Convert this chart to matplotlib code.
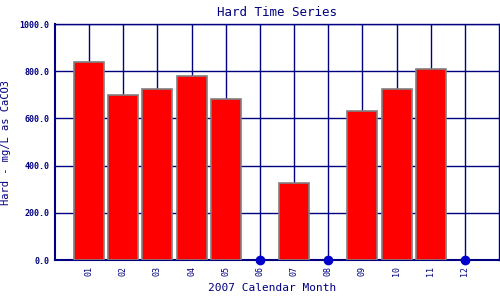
import numpy as np
import matplotlib
matplotlib.use("Agg")
import matplotlib.pyplot as plt

# monthly hardness, NaN = no sample
months = ["01", "02", "03", "04", "05", "06", "07", "08", "09", "10", "11", "12"]
hardness = [837, 700, 726, 781, 684, np.nan, 325, np.nan, 630, 726, 811, np.nan]

navy = "#000080"
plt.rcParams['font.family'] = ['DejaVu Sans Mono', 'DejaVu Sans']

fig = plt.figure(figsize=(5, 3), dpi=100)
ax = fig.add_axes([0.11, 0.133, 0.888, 0.787])

x = np.arange(1, len(months) + 1)
vals = np.array(hardness, dtype=float)
have = ~np.isnan(vals)

ax.bar(x[have], vals[have], width=0.88, color="red", edgecolor="gray",
       linewidth=1.2, zorder=3)
ax.plot(x[~have], np.zeros((~have).sum()), "o", color="#0000cc",
        markersize=6, zorder=4, clip_on=False)

ax.set_xlim(0, 13)
ax.set_ylim(0, 1000)
ax.set_xticks(x)
ax.set_xticklabels(months, rotation=90, fontsize=6)
ax.set_yticks([0, 200, 400, 600, 800, 1000])
ax.set_yticklabels(["%.1f" % v for v in [0, 200, 400, 600, 800, 1000]],
                   fontsize=6, fontweight="bold")
ax.tick_params(colors=navy, length=0, pad=4)
ax.grid(True, color=navy, linewidth=1, zorder=0)
for s in ax.spines.values():
    s.set_color(navy)
    s.set_linewidth(1)
ax.spines['left'].set_linewidth(1.5)
ax.spines['bottom'].set_linewidth(1.5)

ax.set_title("Hard Time Series", color=navy, fontsize=9, pad=6)
fig.text(0.545, 0.022, "2007 Calendar Month", color=navy, fontsize=8,
         ha="center", va="bottom")
ax.set_ylabel("Hard - mg/L as CaCO3", color=navy, fontsize=7.5, labelpad=6)

fig.savefig("out.png", dpi=100)
